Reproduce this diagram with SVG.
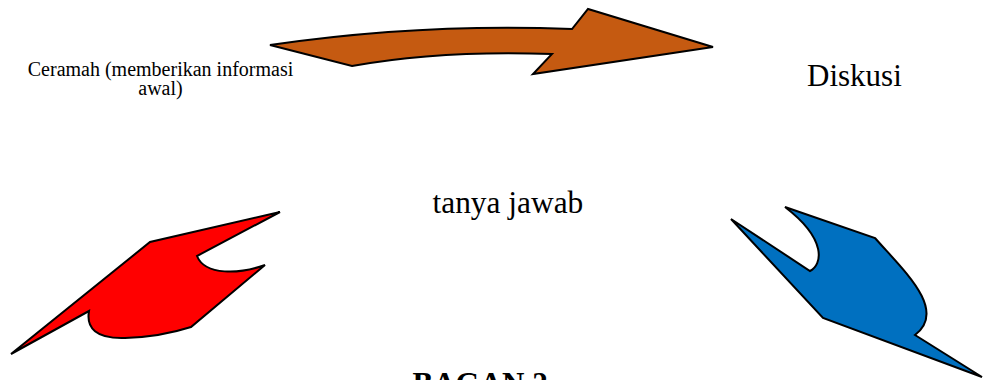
<svg xmlns="http://www.w3.org/2000/svg" width="984" height="380" viewBox="0 0 984 380">
<style>
.shape{stroke:#000;stroke-width:2;stroke-linejoin:miter}
text{font-family:'Liberation Serif','Times New Roman','DejaVu Serif',serif;fill:#000}
</style>
<rect width="984" height="380" fill="#fff"/>
<g id="connectors">
<path id="arrow-top" class="shape" fill="#C55A11" d="M270,45 Q420,23 572,29 L588,9 L713,47 L533,74 L552,54 Q440,50 352,66 Z"/>
<path id="arrow-right" class="shape" fill="#0070C0" d="M731,219 L810,271 C822,265 828,240 785,207 L875,238 C903,270 948,310 915,335 L982,377 L823,318 Z"/>
<path id="arrow-left" class="shape" fill="#FF0000" d="M11,354 L89,311 C86,328 96,339 125,338 Q160,337 191,327 L265,265 C240,274 205,276 197,256 L280,212 L150,242 Z"/>
</g>
<g id="node-ceramah">
<text font-family="Liberation Serif, serif" x="160.5" y="76" font-size="20" text-anchor="middle">Ceramah (memberikan informasi</text>
<text font-family="Liberation Serif, serif" x="160.5" y="95" font-size="20" text-anchor="middle">awal)</text>
</g>
<g id="node-diskusi">
<text font-family="Liberation Serif, serif" x="807" y="86" font-size="31">Diskusi</text>
</g>
<g id="node-tanya">
<text font-family="Liberation Serif, serif" x="432.5" y="213" font-size="31.4">tanya jawab</text>
</g>
<g id="title">
<text font-family="Liberation Serif, serif" x="412.5" y="393.5" font-size="31" font-weight="bold">BAGAN 2</text>
</g>
</svg>
